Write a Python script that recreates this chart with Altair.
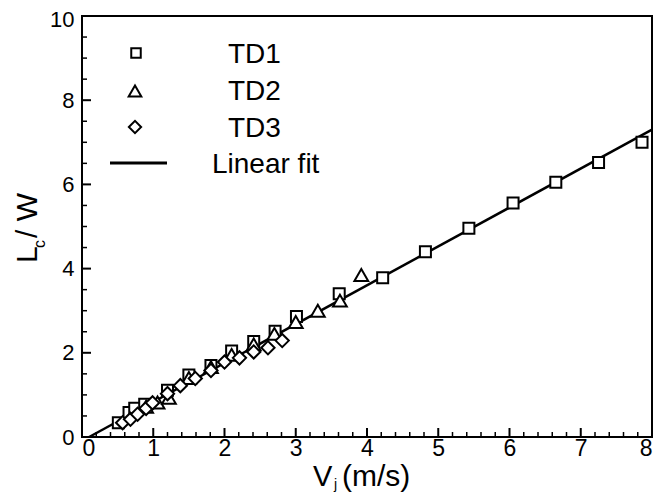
import altair as alt
import pandas as pd

# ---- data ----
td1_x = [0.51, 0.66, 0.74, 0.88, 1.20, 1.50, 1.81, 2.10, 2.41, 2.71, 3.01, 3.61, 4.22, 4.82, 5.43, 6.05, 6.65, 7.25, 7.86]
td1_y = [0.34, 0.58, 0.68, 0.78, 1.11, 1.47, 1.70, 2.04, 2.27, 2.51, 2.86, 3.40, 3.78, 4.40, 4.96, 5.56, 6.05, 6.52, 7.00]

td2_x = [0.90, 1.06, 1.22, 1.50, 1.81, 2.10, 2.41, 2.70, 3.00, 3.31, 3.62, 3.92]
td2_y = [0.72, 0.82, 0.93, 1.40, 1.66, 1.95, 2.20, 2.45, 2.73, 3.00, 3.24, 3.85]

td3_x = [0.57, 0.68, 0.78, 0.90, 0.99, 1.20, 1.38, 1.59, 1.81, 2.00, 2.21, 2.41, 2.61, 2.81]
td3_y = [0.34, 0.42, 0.54, 0.68, 0.81, 1.03, 1.22, 1.39, 1.58, 1.78, 1.88, 2.02, 2.12, 2.29]

fit_x = [0.10, 8.00]
fit_y = [0.00, 7.30]

x_major = [0, 1, 2, 3, 4, 5, 6, 7, 8]
x_minor = [round(i * 0.2, 1) for i in range(41) if i % 5 != 0]
y_major = [0, 2, 4, 6, 8, 10]
y_minor = [round(i * 0.5, 1) for i in range(21) if i % 4 != 0]

legend_labels = ["TD1", "TD2", "TD3", "Linear fit"]

FONT = "Liberation Sans"
W, H = 570, 421

xs = alt.Scale(domain=[0, 8], nice=False, zero=False)
ys = alt.Scale(domain=[0, 10], nice=False, zero=False)
xaxis = alt.Axis(values=x_major, title=None, format="d", labelPadding=0)
yaxis = alt.Axis(
    values=y_major, title=None, format="d", labelPadding=8, labelFontSize=22,
    labelOffset={"condition": {"test": "datum.value == 10", "value": 3}, "value": 0},
)

one = pd.DataFrame({"a": [0]})


def pts(xv, yv, shape, size):
    df = pd.DataFrame({"x": xv, "y": yv})
    return alt.Chart(df).mark_point(
        shape=shape, size=size, filled=True, fill="white", stroke="black",
        strokeWidth=2, opacity=1, fillOpacity=1
    ).encode(x=alt.X("x:Q", scale=xs, axis=xaxis), y=alt.Y("y:Q", scale=ys, axis=yaxis))


fit = alt.Chart(pd.DataFrame({"x": fit_x, "y": fit_y})).mark_line(
    color="black", strokeWidth=2.5
).encode(x=alt.X("x:Q", scale=xs, axis=xaxis), y=alt.Y("y:Q", scale=ys, axis=yaxis))


def xticks(vals, length, sw):
    return alt.Chart(pd.DataFrame({"v": vals})).mark_rule(color="black", strokeWidth=sw).encode(
        x=alt.X("v:Q", scale=xs, axis=xaxis), y=alt.value(H), y2=alt.value(H - length))


def yticks(vals, length, sw):
    return alt.Chart(pd.DataFrame({"v": vals})).mark_rule(color="black", strokeWidth=sw).encode(
        y=alt.Y("v:Q", scale=ys, axis=yaxis), x=alt.value(0), x2=alt.value(length))


def txt(t, x, y, size, angle=0, align="left", baseline="alphabetic"):
    kw = dict(text=t, font=FONT, fontSize=size, align=align, baseline=baseline, color="black")
    if angle:
        kw["angle"] = angle
    return alt.Chart(one).mark_text(**kw).encode(x=alt.value(x), y=alt.value(y))


def lpoint(shape, size, x, y):
    return alt.Chart(one).mark_point(
        shape=shape, size=size, filled=True, fill="white", stroke="black",
        strokeWidth=2, opacity=1
    ).encode(x=alt.value(x), y=alt.value(y))


legend = [
    lpoint("square", 90, 54, 37),
    lpoint("triangle-up", 160, 53, 75),
    lpoint("diamond", 150, 53, 111),
    alt.Chart(one).mark_rule(color="black", strokeWidth=3).encode(
        x=alt.value(28), x2=alt.value(85), y=alt.value(147)),
    txt(legend_labels[0], 146, 39, 28, baseline="middle"),
    txt(legend_labels[1], 146, 76, 28, baseline="middle"),
    txt(legend_labels[2], 146, 113, 28, baseline="middle"),
    txt(legend_labels[3], 130, 149, 28, baseline="middle"),
]

titles = [
    txt("V", 231, 470, 29),
    txt("j", 252, 473, 14),
    txt("(m/s)", 260, 470, 30),
    txt("L", -45, 247, 30, angle=270),
    txt("c", -37, 232, 16, angle=270),
    txt("/ W", -45, 222, 30, angle=270),
]

chart = alt.layer(
    xticks(x_major, 9, 2), xticks(x_minor, 5, 1.5),
    yticks(y_major, 9, 2), yticks(y_minor, 5, 1.5),
    fit,
    pts(td1_x, td1_y, "square", 121),
    pts(td2_x, td2_y, "triangle-up", 190),
    pts(td3_x, td3_y, "diamond", 175),
    *legend, *titles,
).properties(
    width=W, height=H,
    autosize=alt.AutoSizeParams(type="none"),
    padding={"left": 74, "top": 8, "right": 10, "bottom": 56},
).configure_view(
    stroke="black", strokeWidth=2
).configure_axis(
    grid=False, ticks=False, domain=False, labelFont=FONT, labelFontSize=23,
    labelColor="black"
)

chart.save("out.html", embed_options={"renderer": "svg", "actions": False})
